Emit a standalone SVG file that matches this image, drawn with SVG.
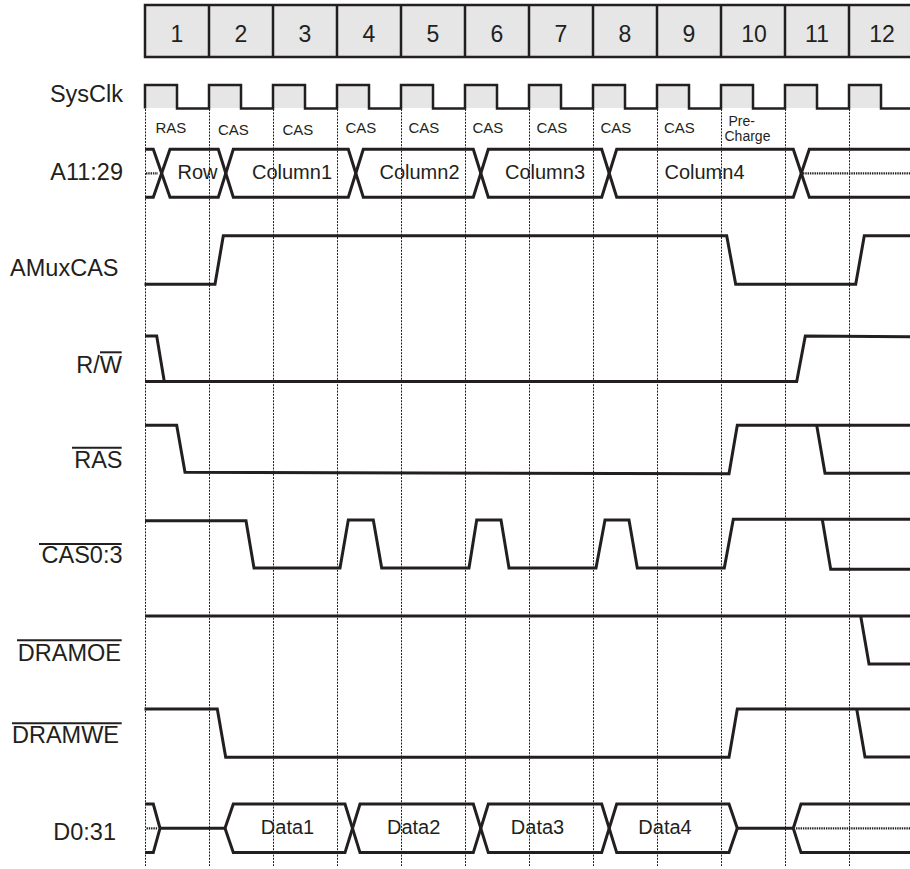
<svg xmlns="http://www.w3.org/2000/svg" width="910" height="869" viewBox="0 0 910 869">
<style>
.bg{fill:#ffffff}
.sig{fill:none;stroke:#231f20;stroke-width:3;stroke-linejoin:miter;stroke-linecap:butt}
.thin{fill:none;stroke:#231f20;stroke-width:2.5}
.grid{fill:none;stroke:#231f20;stroke-width:1;stroke-dasharray:2 1.2}
.hiz{fill:none;stroke:#231f20;stroke-width:2.2;stroke-dasharray:1.4 0.9}
.shade{fill:#e6e6e6;stroke:none}
.ovl{stroke:#231f20;stroke-width:2}
text{font-family:"Liberation Sans",Arial,Helvetica,sans-serif;fill:#231f20}
.lbl{font-size:23.5px;text-anchor:end}
.num{font-size:23px;text-anchor:middle}
.bus{font-size:20px;text-anchor:middle}
.ph{font-size:15px}
.ph2{font-size:14px}
</style>
<rect class="bg" x="0" y="0" width="910" height="869"/>

<g id="header">
  <rect class="shade" x="145" y="5" width="770" height="52"/>
  <path class="thin" d="M912,5 H145 V57 H912 M209,5 V57 M273,5 V57 M337,5 V57 M401,5 V57 M465,5 V57 M529,5 V57 M593,5 V57 M657,5 V57 M721,5 V57 M785,5 V57 M849,5 V57"/>
  <text class="num" x="177" y="42">1</text>
  <text class="num" x="241" y="42">2</text>
  <text class="num" x="305" y="42">3</text>
  <text class="num" x="369" y="42">4</text>
  <text class="num" x="433" y="42">5</text>
  <text class="num" x="497" y="42">6</text>
  <text class="num" x="561" y="42">7</text>
  <text class="num" x="625" y="42">8</text>
  <text class="num" x="689" y="42">9</text>
  <text class="num" x="754" y="42">10</text>
  <text class="num" x="817" y="42">11</text>
  <text class="num" x="882" y="42">12</text>
</g>

<g id="grid">
  <path class="grid" d="M145.5,109 V866 M209.5,109 V866 M273.5,109 V866 M337.5,109 V866 M401.5,109 V866 M465.5,109 V866 M529.5,109 V866 M593.5,109 V866 M657.5,109 V866 M721.5,109 V866 M785.5,109 V866 M849.5,109 V866"/>
</g>

<g id="sysclk">
  <text class="lbl" x="123" y="101.5">SysClk</text>
  <rect class="shade" x="145" y="85" width="32" height="23"/>
  <rect class="shade" x="209" y="85" width="32" height="23"/>
  <rect class="shade" x="273" y="85" width="32" height="23"/>
  <rect class="shade" x="337" y="85" width="32" height="23"/>
  <rect class="shade" x="401" y="85" width="32" height="23"/>
  <rect class="shade" x="465" y="85" width="32" height="23"/>
  <rect class="shade" x="529" y="85" width="32" height="23"/>
  <rect class="shade" x="593" y="85" width="32" height="23"/>
  <rect class="shade" x="657" y="85" width="32" height="23"/>
  <rect class="shade" x="721" y="85" width="32" height="23"/>
  <rect class="shade" x="785" y="85" width="32" height="23"/>
  <rect class="shade" x="849" y="85" width="32" height="23"/>
  <path class="thin" d="M145,108.5 V85 H177 V108.5 H209 V85 H241 V108.5 H273 V85 H305 V108.5 H337 V85 H369 V108.5 H401 V85 H433 V108.5 H465 V85 H497 V108.5 H529 V85 H561 V108.5 H593 V85 H625 V108.5 H657 V85 H689 V108.5 H721 V85 H753 V108.5 H785 V85 H817 V108.5 H849 V85 H881 V108.5 H912"/>
</g>

<g id="phases">
  <text class="ph" x="155.5" y="133">RAS</text>
  <text class="ph" x="218" y="134.5">CAS</text>
  <text class="ph" x="282.5" y="134.5">CAS</text>
  <text class="ph" x="345.5" y="133">CAS</text>
  <text class="ph" x="408.5" y="133">CAS</text>
  <text class="ph" x="472.5" y="133">CAS</text>
  <text class="ph" x="536.5" y="133">CAS</text>
  <text class="ph" x="600.5" y="133">CAS</text>
  <text class="ph" x="664" y="133">CAS</text>
  <text class="ph2" x="728.5" y="125.5">Pre-</text>
  <text class="ph2" x="724.5" y="140.5">Charge</text>
</g>

<g id="a11_29">
  <text class="lbl" x="123" y="180">A11:29</text>
  <path class="sig" d="M145,149.3 H153.3 L170,197.3 H218.3 L233.3,149.3 H348.3 L363.3,197.3 H473.3 L488.3,149.3 H601.7 L616.7,197.3 H793.3 L809.3,149.3 H912"/>
  <path class="sig" d="M145,197.3 H153.3 L170,149.3 H218.3 L233.3,197.3 H348.3 L363.3,149.3 H473.3 L488.3,197.3 H601.7 L616.7,149.3 H793.3 L809.3,197.3 H912"/>
  <path class="hiz" d="M146,173.3 H158"/>
  <path class="hiz" d="M803,173.3 H910"/>
  <text class="bus" x="197.5" y="178.5">Row</text>
  <text class="bus" x="292" y="178.5">Column1</text>
  <text class="bus" x="419.5" y="178.5">Column2</text>
  <text class="bus" x="545" y="178.5">Column3</text>
  <text class="bus" x="704.5" y="178.5">Column4</text>
</g>

<g id="amuxcas">
  <text class="lbl" x="118.5" y="276">AMuxCAS</text>
  <path class="sig" d="M144.5,284.3 H215 L223.3,235.8 H726.7 L735.7,284.3 H855.7 L864.3,235.8 H912"/>
</g>

<g id="rw">
  <text class="lbl" x="122" y="372.5">R/W</text>
  <line class="ovl" x1="100" y1="352.3" x2="121.7" y2="352.3"/>
  <path class="sig" d="M145,336 H156.7 L164.3,381.5"/>
  <path class="sig" d="M145,381.5 H796.7 L805.3,336 L912,336.8"/>
</g>

<g id="ras">
  <text class="lbl" x="122.5" y="468.3">RAS</text>
  <line class="ovl" x1="72" y1="447.7" x2="121.7" y2="447.7"/>
  <path class="sig" d="M145,425.3 H176.7 L185,472.3 L729,473.8 L737.3,425.3 H912"/>
  <path class="sig" d="M816.7,425.3 L825,473.3 H912"/>
</g>

<g id="cas0_3">
  <text class="lbl" x="122.5" y="563.3">CAS0:3</text>
  <line class="ovl" x1="39" y1="544" x2="121.7" y2="544"/>
  <path class="sig" d="M145,520.7 H246 L254,568 H340 L348.3,520 H373.3 L381.7,568 H469 L476.7,520 H501 L509,568 H596 L605,520 H629 L637.3,568 H724.3 L733.3,519.3 H912"/>
  <path class="sig" d="M822.3,519.5 L830.7,569.3 H912"/>
</g>

<g id="dramoe">
  <text class="lbl" x="121" y="660.7">DRAMOE</text>
  <line class="ovl" x1="17" y1="640.3" x2="121.7" y2="640.3"/>
  <path class="sig" d="M145,616 H912"/>
  <path class="sig" d="M860.7,616 L869,664 H912"/>
</g>

<g id="dramwe">
  <text class="lbl" x="119" y="743.3">DRAMWE</text>
  <line class="ovl" x1="12" y1="723.3" x2="121.7" y2="723.3"/>
  <path class="sig" d="M144.5,709 H217.3 L225.7,757.2 H729 L737.3,709 H912"/>
  <path class="sig" d="M856.7,709 L865,757 H912"/>
</g>

<g id="d0_31">
  <text class="lbl" x="116" y="840">D0:31</text>
  <path class="sig" d="M145,804 H153.3 L160,828.3 L153.3,852.6 H145"/>
  <path class="hiz" d="M146.5,828.3 H157.5"/>
  <path class="sig" d="M160,828.3 H225"/>
  <path class="sig" d="M225,828.3 L233.3,804 H345 L360,852.6 H473.3 L488.3,804 H601.7 L616.7,852.6 H729 L737.3,828.3"/>
  <path class="sig" d="M225,828.3 L233.3,852.6 H345 L360,804 H473.3 L488.3,852.6 H601.7 L616.7,804 H729 L737.3,828.3"/>
  <path class="sig" d="M737.3,828.3 H793.3"/>
  <path class="sig" d="M912,804 H801 L793.3,828.3 L801,852.6 H912"/>
  <path class="hiz" d="M796,828.3 H910"/>
  <text class="bus" x="287.5" y="834.3">Data1</text>
  <text class="bus" x="413.7" y="834.3">Data2</text>
  <text class="bus" x="537.5" y="834.3">Data3</text>
  <text class="bus" x="665" y="834.3">Data4</text>
</g>
</svg>
